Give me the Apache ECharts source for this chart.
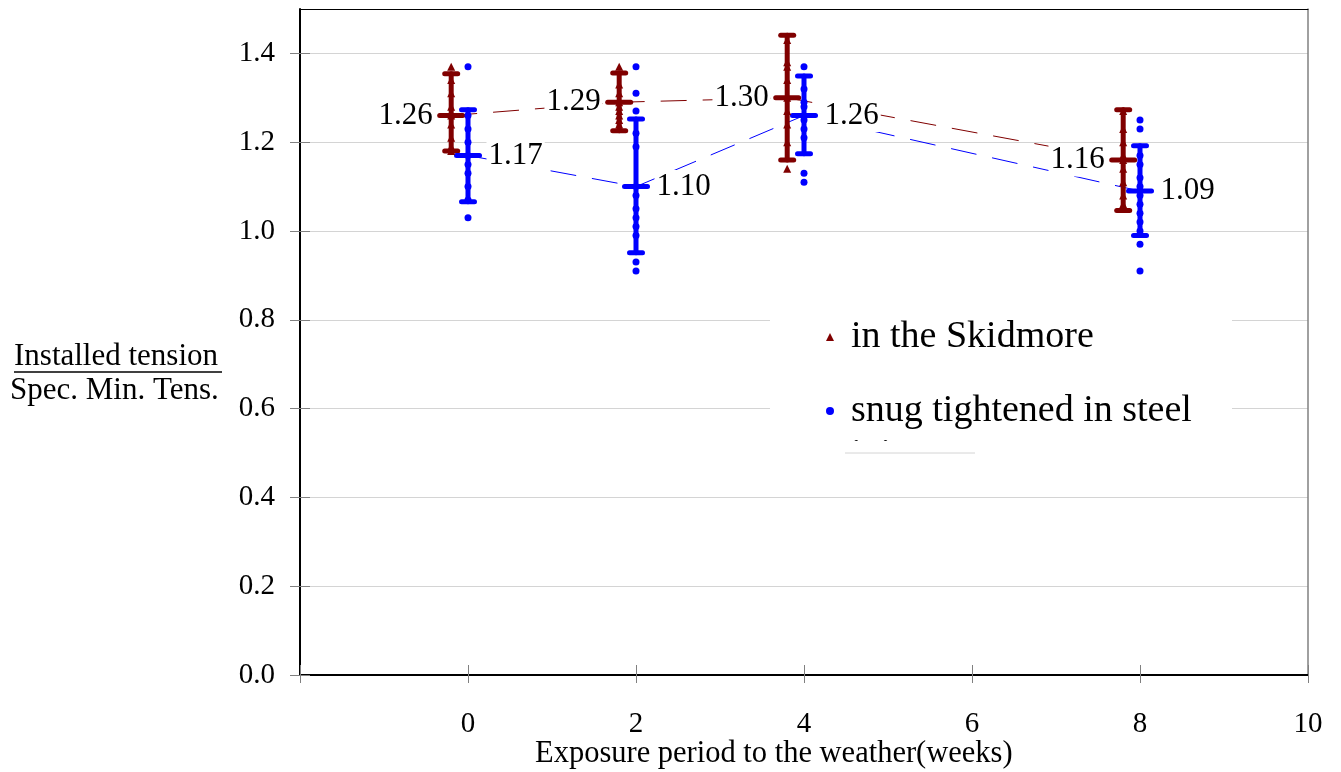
<!DOCTYPE html>
<html><head><meta charset="utf-8">
<script src="https://cdn.jsdelivr.net/npm/echarts@6/dist/echarts.min.js"></script>
<style>html,body{margin:0;padding:0;background:#fff}#c{width:1341px;height:772px}</style>
</head><body><div id="c"></div>
<script>
// ---- data ----
const weeks = [0, 2, 4, 8];
const xTickLabels = [0, 2, 4, 6, 8, 10];
const yTicks = [0, 0.2, 0.4, 0.6, 0.8, 1.0, 1.2, 1.4];

const skidName = 'in the Skidmore';
const skidMean = [1.26, 1.29, 1.30, 1.16];
const skidHigh = [1.354, 1.356, 1.441, 1.273];
const skidLow = [1.180, 1.226, 1.160, 1.046];
const skidW0 = [1.37, 1.34, 1.31, 1.28, 1.26, 1.24, 1.21, 1.19, 1.18];
const skidW2 = [1.37, 1.33, 1.31, 1.29, 1.28, 1.27, 1.26, 1.25, 1.24];
const skidW4 = [1.43, 1.38, 1.37, 1.34, 1.30, 1.27, 1.24, 1.20, 1.14];
const skidW8 = [1.27, 1.23, 1.20, 1.17, 1.16, 1.14, 1.11, 1.08, 1.06];

const snugName = 'snug tightened in steel joints';
const snugMean = [1.17, 1.10, 1.26, 1.09];
const snugHigh = [1.273, 1.252, 1.349, 1.192];
const snugLow = [1.066, 0.951, 1.174, 0.990];
const snugW0 = [1.37, 1.26, 1.23, 1.20, 1.17, 1.15, 1.13, 1.10, 1.07, 1.03];
const snugW2 = [1.37, 1.31, 1.27, 1.22, 1.19, 1.10, 1.08, 1.05, 1.03, 1.01, 0.99, 0.93, 0.91];
const snugW4 = [1.37, 1.32, 1.29, 1.28, 1.25, 1.23, 1.21, 1.13, 1.11];
const snugW8 = [1.25, 1.23, 1.17, 1.15, 1.12, 1.10, 1.08, 1.06, 1.04, 1.02, 1.00, 0.97, 0.91];

// ---- style constants ----
const RED = '#800000', BLUE = '#0000ff';
const skidOffset = -0.2;  // Skidmore group drawn slightly left of its week
const FONT = 'Liberation Serif';

const skidPoints = [skidW0, skidW2, skidW4, skidW8];
const snugPoints = [snugW0, snugW2, snugW4, snugW8];
function pts(groups, off) {
  const out = [];
  weeks.forEach((w, i) => groups[i].forEach(v => out.push([w + off, v])));
  return out;
}
function errData(mean, lo, hi, off) {
  return weeks.map((w, i) => [w + off, lo[i], hi[i], mean[i]]);
}
function errRender(color) {
  return function (params, api) {
    const x = api.value(0);
    const pLo = api.coord([x, api.value(1)]);
    const pHi = api.coord([x, api.value(2)]);
    const pM = api.coord([x, api.value(3)]);
    const st = { stroke: color, lineWidth: 5, lineCap: 'round' };
    const cap = 6.5, mb = 11.5;
    return { type: 'group', children: [
      { type: 'line', shape: { x1: pLo[0], y1: pLo[1], x2: pHi[0], y2: pHi[1] }, style: st },
      { type: 'line', shape: { x1: pHi[0] - cap, y1: pHi[1], x2: pHi[0] + cap, y2: pHi[1] }, style: st },
      { type: 'line', shape: { x1: pLo[0] - cap, y1: pLo[1], x2: pLo[0] + cap, y2: pLo[1] }, style: st },
      { type: 'line', shape: { x1: pM[0] - mb, y1: pM[1], x2: pM[0] + mb, y2: pM[1] }, style: st }
    ]};
  };
}
const labelStyle = { show: true, fontSize: 31, fontFamily: FONT, color: '#000',
  backgroundColor: '#fff', padding: [1, 2], formatter: p => p.value[1].toFixed(2) };

const chart = echarts.init(document.getElementById('c'), null, { renderer: 'canvas' });
const option = {
  animation: false,
  backgroundColor: '#fff',
  grid: { left: 300, right: 33, top: 9, bottom: 97 },
  xAxis: [
    { type: 'value', min: -2, max: 10, interval: 2, position: 'bottom',
      axisLine: { show: true, onZero: false, lineStyle: { color: '#000', width: 2 } },
      axisTick: { show: true, inside: false, length: 8, lineStyle: { color: '#808080' } },
      axisLabel: { customValues: xTickLabels, margin: 35, fontSize: 29, fontFamily: FONT, color: '#000' },
      splitLine: { show: false } },
    { type: 'value', min: -2, max: 10, interval: 2, position: 'bottom',
      axisLine: { show: false, onZero: false }, axisTick: { show: true, inside: true, length: 10, lineStyle: { color: '#808080' } },
      axisLabel: { show: false }, splitLine: { show: false } },
    { type: 'value', min: -2, max: 10, interval: 2, position: 'top',
      axisLine: { show: true, onZero: false, lineStyle: { color: '#000', width: 1 } }, axisTick: { show: false },
      axisLabel: { show: false }, splitLine: { show: false } }
  ],
  yAxis: [
    { type: 'value', min: 0, max: 1.5, interval: 0.1, position: 'left',
      axisLine: { show: true, onZero: false, lineStyle: { color: '#000', width: 2 } },
      axisTick: { show: true, inside: false, customValues: yTicks, length: 10, lineStyle: { color: '#808080' } },
      axisLabel: { customValues: yTicks, formatter: v => v.toFixed(1), margin: 25, fontSize: 29, fontFamily: FONT, color: '#000' },
      splitLine: { show: true, lineStyle: { color: '#d4d4d4', width: 1 } } },
    { type: 'value', min: 0, max: 1.5, interval: 0.1, position: 'left',
      axisLine: { show: false, onZero: false }, axisTick: { show: true, inside: true, customValues: yTicks, length: 10, lineStyle: { color: '#808080' } },
      axisLabel: { show: false }, splitLine: { show: false } },
    { type: 'value', min: 0, max: 1.5, interval: 0.1, position: 'right',
      axisLine: { show: true, onZero: false, lineStyle: { color: '#808080', width: 1.5 } }, axisTick: { show: false },
      axisLabel: { show: false }, splitLine: { show: false } }
  ],
  legend: {
    orient: 'vertical', left: 821, top: 312, itemWidth: 8, itemHeight: 8, itemGap: 34,
    selectedMode: false,
    data: [{ name: skidName, icon: 'triangle' }, { name: snugName, icon: 'circle' }],
    formatter: n => n === snugName ? 'snug tightened in steel' : n,
    textStyle: { fontSize: 38, fontFamily: FONT, color: '#000', lineHeight: 40, padding: [0, 0, 0, 12] }
  },
  series: [
    { name: 'skidMeanLine', type: 'line', z: 2, silent: true, symbol: 'none',
      data: weeks.map((w, i) => [w + skidOffset, skidMean[i]]),
      lineStyle: { color: RED, width: 1, type: [26, 16] } },
    { name: 'snugMeanLine', type: 'line', z: 2, silent: true, symbol: 'none',
      data: weeks.map((w, i) => [w, snugMean[i]]),
      lineStyle: { color: BLUE, width: 1, type: [26, 16] } },
    { name: 'skidErr', type: 'custom', z: 3, silent: true, renderItem: errRender(RED),
      data: errData(skidMean, skidLow, skidHigh, skidOffset) },
    { name: 'snugErr', type: 'custom', z: 3, silent: true, renderItem: errRender(BLUE),
      data: errData(snugMean, snugLow, snugHigh, 0) },
    { name: skidName, type: 'scatter', z: 4, symbol: 'triangle', symbolSize: 8,
      itemStyle: { color: RED, opacity: 1 }, data: pts(skidPoints, skidOffset) },
    { name: snugName, type: 'scatter', z: 4, symbol: 'circle', symbolSize: 7,
      itemStyle: { color: BLUE, opacity: 1 }, data: pts(snugPoints, 0) },
    { name: 'skidLabels', type: 'scatter', z: 5, symbolSize: 1, silent: true,
      itemStyle: { color: 'rgba(0,0,0,0)', opacity: 1 },
      data: weeks.map((w, i) => [w + skidOffset, skidMean[i]]),
      label: Object.assign({ position: 'left', distance: 16 }, labelStyle) },
    { name: 'snugLabels', type: 'scatter', z: 5, symbolSize: 1, silent: true,
      itemStyle: { color: 'rgba(0,0,0,0)', opacity: 1 },
      data: weeks.map((w, i) => [w, snugMean[i]]),
      label: Object.assign({ position: 'right', distance: 18 }, labelStyle) }
  ]
};
chart.setOption(option);

const yHalf = chart.convertToPixel({ yAxisIndex: 0 }, 0.5);
chart.setOption({
  graphic: [
    { type: 'rect', z: 1, shape: { x: 770, y: 291, width: 462, height: 160 }, style: { fill: '#fff' } },
    { type: 'text', z: 5, left: 851, top: 436, style: { text: 'joints', fontSize: 38, fontFamily: FONT, fill: '#000' } },
    { type: 'rect', z: 6, shape: { x: 845, y: 441, width: 130, height: 45 }, style: { fill: '#fff' } },
    { type: 'line', z: 7, shape: { x1: 845, y1: yHalf, x2: 975, y2: yHalf }, style: { stroke: '#d4d4d4', lineWidth: 1 } },
    { type: 'text', z: 5, left: 14, top: 341, style: { text: 'Installed tension', fontSize: 31, fontFamily: FONT, fill: '#000' } },
    { type: 'line', z: 5, shape: { x1: 14, y1: 372, x2: 222, y2: 372 }, style: { stroke: '#000', lineWidth: 1.5 } },
    { type: 'text', z: 5, left: 10, top: 375, style: { text: 'Spec. Min. Tens.', fontSize: 31, fontFamily: FONT, fill: '#000' } },
    { type: 'text', z: 5, left: 535, top: 738, style: { text: 'Exposure period to the weather(weeks)', fontSize: 30.5, fontFamily: FONT, fill: '#000' } }
  ]
});
</script>
</body></html>
